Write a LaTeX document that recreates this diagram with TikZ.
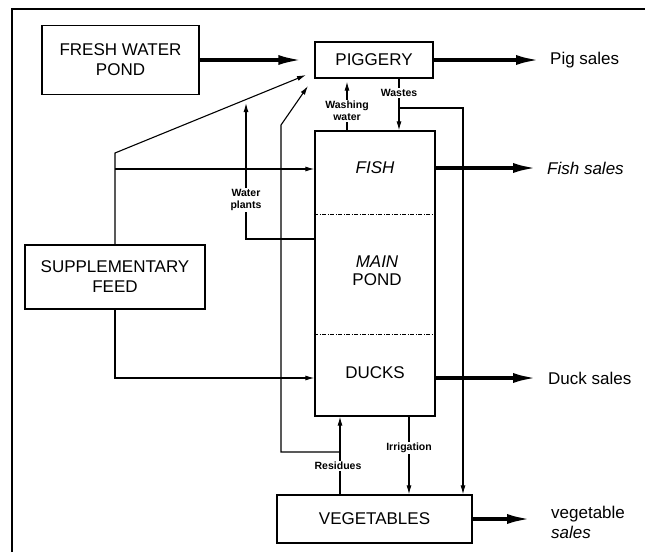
\documentclass[tikz,border=0pt]{standalone}
\usepackage{fontspec}
\setmainfont{Liberation Sans}
\usetikzlibrary{arrows.meta}
\begin{document}
\begin{tikzpicture}[x=1pt,y=-1pt,
  box/.style={draw,line width=1.3pt,inner sep=0pt,align=center,font=\fontsize{17}{20}\selectfont},
  txt/.style={inner sep=0pt,align=center,font=\fontsize{17}{18}\selectfont},
  sales/.style={anchor=west,inner sep=0pt,align=left,font=\fontsize{17}{20}\selectfont},
  lab/.style={fill=white,inner sep=1pt,align=center,font=\bfseries\fontsize{10.5}{12}\selectfont},
  big/.style={line width=3.5pt,-{Latex[length=24pt,width=10pt]}},
  arr/.style={line width=1.1pt,-{Latex[length=9pt,width=5pt]}},
  sep/.style={line width=0.8pt,dash pattern=on 4pt off 1.5pt on 1pt off 1.5pt}]
\useasboundingbox (0,0) rectangle (645,552);
\draw[line width=1.2pt] (12,552) -- (12,9) -- (645,9);
% boxes
\node[box,minimum width=157pt,minimum height=69pt] (fwp) at (120.5,60) {FRESH WATER\\POND};
\node[box,minimum width=118pt,minimum height=36pt] (pig) at (374,60) {PIGGERY};
\node[box,minimum width=120pt,minimum height=285pt] (pond) at (375,273.5) {};
\node[box,minimum width=180pt,minimum height=64pt] (sf) at (115,277) {SUPPLEMENTARY\\FEED};
\node[box,minimum width=195pt,minimum height=48pt] (veg) at (374.5,519) {VEGETABLES};
\node[txt] (fish) at (375,168) {\itshape FISH};
\node[txt] (main) at (377,271) {\textit{MAIN}\\POND};
\node[txt] (ducks) at (375,373) {DUCKS};
% sales
\node[sales] (pigs) at (550,60) {Pig sales};
\node[sales] (fishs) at (547,168) {\itshape Fish sales};
\node[sales] (duckss) at (548,378) {Duck sales};
\node[sales] (vegs) at (551,522) {vegetable\\\textit{sales}};
% coordinates
\coordinate (s1) at (115,153);
\coordinate (s1t) at (306,75);
\coordinate (s2) at (115,169);
\coordinate (s3) at (115,378);
\coordinate (w1) at (246,239);
\coordinate (w1t) at (246,103);
\coordinate (r0) at (340,452);
\coordinate (r1) at (281,452);
\coordinate (r2) at (281,125);
\coordinate (r2t) at (308,86);
\coordinate (irr) at (409,448);
\coordinate (ww) at (347,111);
\coordinate (wa) at (399,108);
\coordinate (wb) at (463,108);
\coordinate (d1) at (0,214);
\coordinate (d2) at (0,334);
% separators
\draw[sep] (pond.west |- d1) -- (pond.east |- d1);
\draw[sep] (pond.west |- d2) -- (pond.east |- d2);
% thick arrows
\draw[big,shorten >=12pt] (fwp.east) -- (pig.west);
\draw[big,shorten >=10pt] (pig.east) -- (pigs.west);
\draw[big,shorten >=10pt] (pond.east |- fishs.west) -- (fishs.west);
\draw[big,shorten >=11pt] (pond.east |- duckss.west) -- (duckss.west);
\draw[big,shorten >=20pt] (veg.east) -- (veg.east -| vegs.west);
% thin connectors
\draw[arr] (sf.north) -- (s1) -- (s1t);
\draw[arr] (s2) -- (s2 -| pond.west);
\draw[arr] (sf.south) -- (s3) -- (s3 -| pond.west);
\draw[arr] (w1 -| pond.west) -- (w1) -- (w1t);
\draw[arr] (r0) -- (r1) -- (r2) -- (r2t);
\draw[arr] (veg.north -| r0) -- (pond.south -| r0);
\draw[arr] (pond.south -| irr) -- (veg.north -| irr);
\draw[arr,shorten >=3pt] (pond.north -| ww) -- (pig.south -| ww);
\draw[arr] (pig.south -| wa) -- (pond.north -| wa);
\draw[arr] (wa) -- (wb) -- (veg.north -| wb);
% labels
\node[lab] (lww) at (ww) {Washing\\water};
\node[lab] (lwa) at (399,93) {Wastes};
\node[lab] (lwp) at (246,200) {Water\\plants};
\node[lab] (lre) at (338,466) {Residues};
\node[lab] (lir) at (irr) {Irrigation};
\end{tikzpicture}
\end{document}
